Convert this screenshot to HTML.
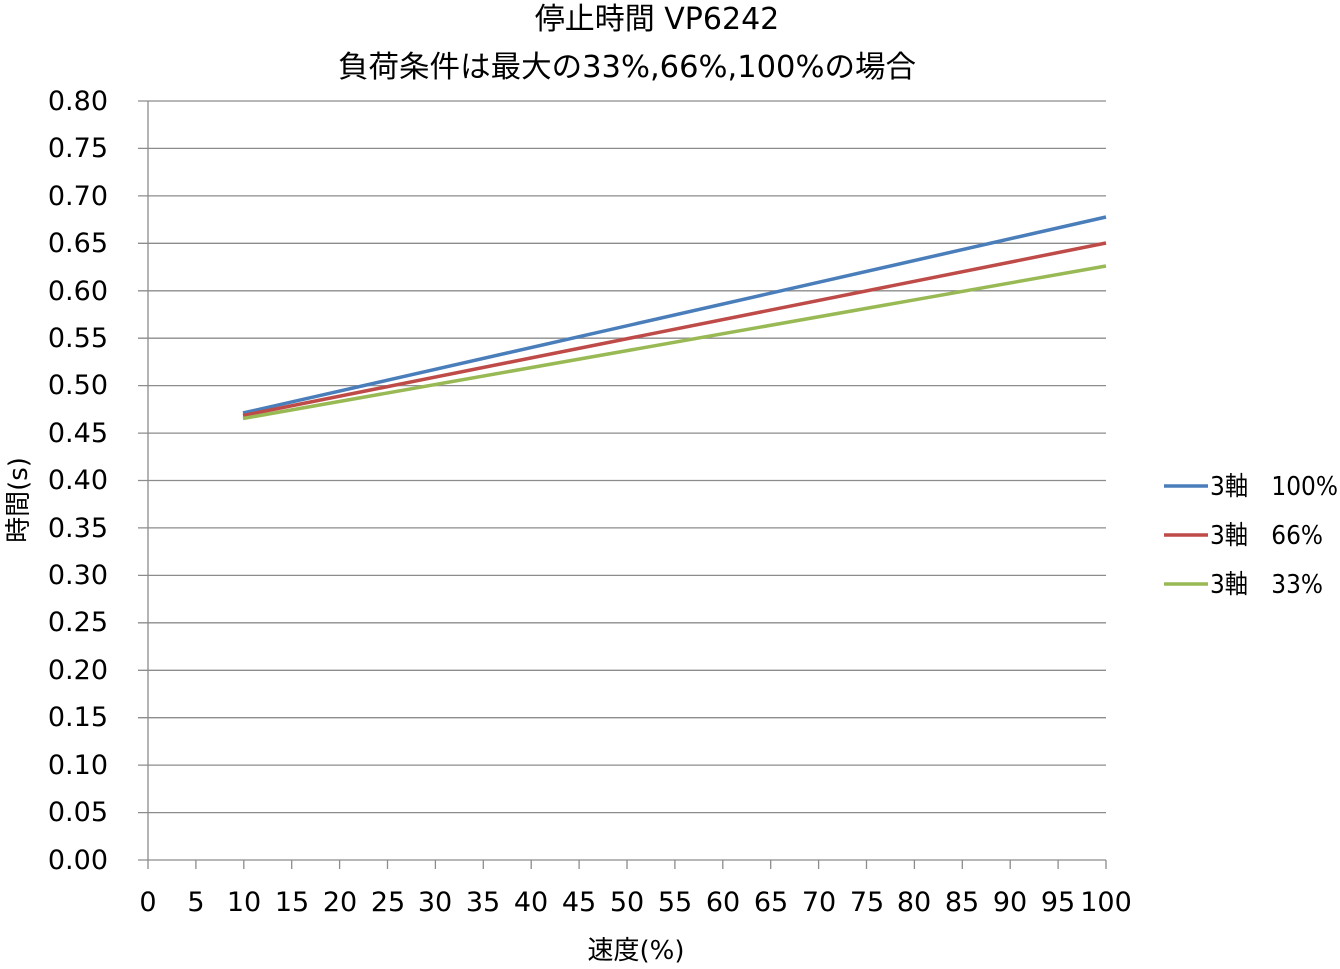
<!DOCTYPE html>
<html><head><meta charset="utf-8"><style>
html,body{margin:0;padding:0;background:#fff}
svg text{font-family:"DejaVu Sans","Liberation Sans","Noto Sans CJK JP",sans-serif;fill:#000}
</style></head><body>
<svg width="1340" height="964" viewBox="0 0 1340 964" xmlns="http://www.w3.org/2000/svg">
<g stroke="#8c8c8c" stroke-width="1.3">
<line x1="138" y1="101" x2="1106" y2="101"/><line x1="138" y1="148.4" x2="1106" y2="148.4"/><line x1="138" y1="195.9" x2="1106" y2="195.9"/><line x1="138" y1="243.3" x2="1106" y2="243.3"/><line x1="138" y1="290.8" x2="1106" y2="290.8"/><line x1="138" y1="338.2" x2="1106" y2="338.2"/><line x1="138" y1="385.6" x2="1106" y2="385.6"/><line x1="138" y1="433.1" x2="1106" y2="433.1"/><line x1="138" y1="480.5" x2="1106" y2="480.5"/><line x1="138" y1="527.9" x2="1106" y2="527.9"/><line x1="138" y1="575.4" x2="1106" y2="575.4"/><line x1="138" y1="622.8" x2="1106" y2="622.8"/><line x1="138" y1="670.3" x2="1106" y2="670.3"/><line x1="138" y1="717.7" x2="1106" y2="717.7"/><line x1="138" y1="765.1" x2="1106" y2="765.1"/><line x1="138" y1="812.6" x2="1106" y2="812.6"/><line x1="138" y1="860" x2="1106" y2="860"/>
<line x1="148" y1="101" x2="148" y2="869"/>
<line x1="195.9" y1="860" x2="195.9" y2="869"/><line x1="243.8" y1="860" x2="243.8" y2="869"/><line x1="291.7" y1="860" x2="291.7" y2="869"/><line x1="339.6" y1="860" x2="339.6" y2="869"/><line x1="387.5" y1="860" x2="387.5" y2="869"/><line x1="435.4" y1="860" x2="435.4" y2="869"/><line x1="483.3" y1="860" x2="483.3" y2="869"/><line x1="531.2" y1="860" x2="531.2" y2="869"/><line x1="579.1" y1="860" x2="579.1" y2="869"/><line x1="627" y1="860" x2="627" y2="869"/><line x1="674.9" y1="860" x2="674.9" y2="869"/><line x1="722.8" y1="860" x2="722.8" y2="869"/><line x1="770.7" y1="860" x2="770.7" y2="869"/><line x1="818.6" y1="860" x2="818.6" y2="869"/><line x1="866.5" y1="860" x2="866.5" y2="869"/><line x1="914.4" y1="860" x2="914.4" y2="869"/><line x1="962.3" y1="860" x2="962.3" y2="869"/><line x1="1010.2" y1="860" x2="1010.2" y2="869"/><line x1="1058.1" y1="860" x2="1058.1" y2="869"/><line x1="1106" y1="860" x2="1106" y2="869"/>
</g>
<g font-size="27" text-anchor="end">
<text x="108" y="110">0.80</text><text x="108" y="157">0.75</text><text x="108" y="205">0.70</text><text x="108" y="252">0.65</text><text x="108" y="300">0.60</text><text x="108" y="347">0.55</text><text x="108" y="394">0.50</text><text x="108" y="442">0.45</text><text x="108" y="489">0.40</text><text x="108" y="537">0.35</text><text x="108" y="584">0.30</text><text x="108" y="631">0.25</text><text x="108" y="679">0.20</text><text x="108" y="726">0.15</text><text x="108" y="774">0.10</text><text x="108" y="821">0.05</text><text x="108" y="869">0.00</text>
</g>
<g font-size="27" text-anchor="middle">
<text x="148" y="911">0</text><text x="196" y="911">5</text><text x="244" y="911">10</text><text x="292" y="911">15</text><text x="340" y="911">20</text><text x="388" y="911">25</text><text x="435" y="911">30</text><text x="483" y="911">35</text><text x="531" y="911">40</text><text x="579" y="911">45</text><text x="627" y="911">50</text><text x="675" y="911">55</text><text x="723" y="911">60</text><text x="771" y="911">65</text><text x="819" y="911">70</text><text x="867" y="911">75</text><text x="914" y="911">80</text><text x="962" y="911">85</text><text x="1010" y="911">90</text><text x="1058" y="911">95</text><text x="1106" y="911">100</text>
</g>
<g font-size="30" text-anchor="middle">
<text x="657" y="29">停止時間 VP6242</text>
<text x="627" y="77" textLength="578" lengthAdjust="spacingAndGlyphs">負荷条件は最大の33%,66%,100%の場合</text>
</g>
<text x="636" y="959" font-size="26" text-anchor="middle">速度(%)</text>
<text transform="translate(27,500) rotate(-90)" font-size="26" text-anchor="middle">時間(s)</text>
<g stroke-width="3.5" fill="none">
<line x1="243" y1="413" x2="1106" y2="217" stroke="#4a7ebb"/>
<line x1="243" y1="415.5" x2="1106" y2="243" stroke="#be4b48"/>
<line x1="243" y1="418.5" x2="1106" y2="266" stroke="#98b954"/>
<line x1="1164" y1="486" x2="1208" y2="486" stroke="#4a7ebb"/>
<line x1="1164" y1="535" x2="1208" y2="535" stroke="#be4b48"/>
<line x1="1164" y1="584" x2="1208" y2="584" stroke="#98b954"/>
</g>
<g font-size="26">
<text x="1210" y="495" textLength="128" lengthAdjust="spacingAndGlyphs">3軸　100%</text>
<text x="1210" y="544" textLength="113" lengthAdjust="spacingAndGlyphs">3軸　66%</text>
<text x="1210" y="593" textLength="113" lengthAdjust="spacingAndGlyphs">3軸　33%</text>
</g>
</svg>
</body></html>
